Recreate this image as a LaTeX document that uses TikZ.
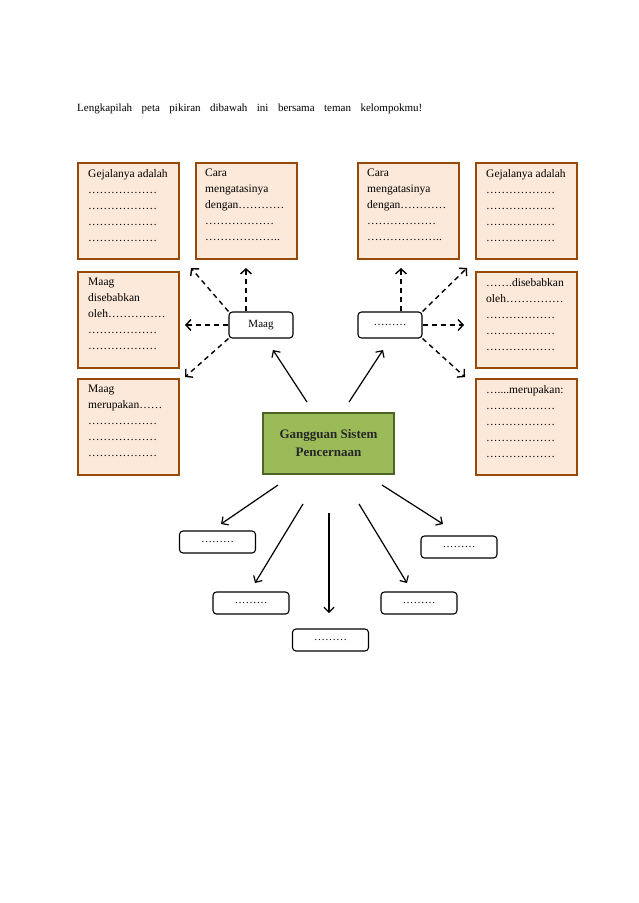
\documentclass[tikz,border=0pt]{standalone}
\usepackage{fontspec}
\setmainfont{Liberation Serif}
\usetikzlibrary{arrows.meta,calc}
\definecolor{boxfill}{HTML}{FDE9D9}
\definecolor{boxline}{HTML}{984807}
\definecolor{grfill}{HTML}{9BBB59}
\definecolor{grline}{HTML}{4F6228}
\newcommand\el{…}
\newcommand\dl{\el\el\el\el\el\el}
\begin{document}
\begin{tikzpicture}[x=1pt,y=-1pt,
 infobox/.style={draw=boxline, fill=boxfill, line width=2pt, minimum width=101pt, minimum height=96pt, anchor=north west, inner sep=0pt},
 infotext/.style={anchor=north west, inner sep=0pt, align=left, font=\fontsize{11.5}{16}\selectfont},
 smallbox/.style={draw, rounded corners=3.5pt, line width=1.1pt, font=\fontsize{11}{13}\selectfont, inner sep=0pt, minimum height=22pt, minimum width=76pt},
 arr/.style={line width=1.2pt, -{Straight Barb[length=5pt,width=10pt]}},
 darr/.style={line width=1.4pt, -{Straight Barb[length=5pt,width=11pt]}, dash pattern=on 5pt off 4pt},
]
\useasboundingbox (0,0) rectangle (638,903);

\node[anchor=base west, inner sep=0pt, font=\fontsize{11}{13}\selectfont] (title) at (77,111)
  {\makebox[345pt][s]{Lengkapilah peta pikiran dibawah ini bersama teman kelompokmu!}};

% left boxes
\node[infobox] (L1) at (77,162) {};
\node[infobox] (L2) at (195,162) {};
\node[infobox] (L3) at (77,271) {};
\node[infobox] (L4) at (77,378) {};
% right boxes
\node[infobox] (R1) at (357,162) {};
\node[infobox] (R2) at (475,162) {};
\node[infobox] (R3) at (475,271) {};
\node[infobox] (R4) at (475,378) {};

\node[infotext] (L1t) at ($(L1.north west)+(11,7)$) {Gejalanya adalah\\\dl\\\dl\\\dl\\\dl};
\node[infotext] (L2t) at ($(L2.north west)+(10,7)$) {Cara\\mengatasinya\\dengan\el\el\el\el\\\dl\\\dl..};
\node[infotext] (L3t) at ($(L3.north west)+(11,7)$) {Maag\\disebabkan\\oleh\el\el\el\el\el\\\dl\\\dl};
\node[infotext] (L4t) at ($(L4.north west)+(11,7)$) {Maag\\merupakan\el\el\\\dl\\\dl\\\dl};
\node[infotext] (R1t) at ($(R1.north west)+(10,7)$) {Cara\\mengatasinya\\dengan\el\el\el\el\\\dl\\\dl..};
\node[infotext] (R2t) at ($(R2.north west)+(11,7)$) {Gejalanya adalah\\\dl\\\dl\\\dl\\\dl};
\node[infotext] (R3t) at ($(R3.north west)+(11,7)$) {\el\el.disebabkan\\oleh\el\el\el\el\el\\\dl\\\dl\\\dl};
\node[infotext] (R4t) at ($(R4.north west)+(11,7)$) {\el....merupakan:\\\dl\\\dl\\\dl\\\dl};

% center
\node[draw=grline, fill=grfill, line width=2pt, minimum width=131pt, minimum height=61pt, inner sep=0pt, align=center,
  font=\fontsize{13}{18}\selectfont\bfseries, text=black!85] (G) at (328.5,443.5) {Gangguan Sistem\\Pencernaan};

\node[smallbox, minimum width=64pt, minimum height=26pt] (M) at (261,325) {Maag};
\node[smallbox, minimum width=64pt, minimum height=26pt] (D) at (390,325) {\el\el\el};

\node[smallbox] (B1) at (217.5,542) {\el\el\el};
\node[smallbox] (B2) at (251,603) {\el\el\el};
\node[smallbox] (B3) at (330.5,640) {\el\el\el};
\node[smallbox] (B4) at (419,603) {\el\el\el};
\node[smallbox] (B5) at (459,547) {\el\el\el};

% connector endpoints
\coordinate (gm) at (307,402); \coordinate (mg) at (273,350);
\coordinate (gd) at (349,402); \coordinate (dg) at (383,350);
\coordinate (g1) at (278,485); \coordinate (b1) at (221,524);
\coordinate (g2) at (303,504); \coordinate (b2) at (255,583);
\coordinate (g3) at (329,513); \coordinate (b3) at (329,613);
\coordinate (g4) at (359,504); \coordinate (b4) at (407,583);
\coordinate (g5) at (382,485); \coordinate (b5) at (443,524);

\draw[arr] (gm) -- (mg);
\draw[arr] (gd) -- (dg);
\draw[arr] (g1) -- (b1);
\draw[arr] (g2) -- (b2);
\draw[arr] (g3) -- (b3);
\draw[arr] (g4) -- (b4);
\draw[arr] (g5) -- (b5);

% dashed from Maag
\coordinate (mu) at (246,268);
\coordinate (mul) at (191,268);
\coordinate (ml) at (185,325);
\coordinate (mll) at (185,377);
\draw[darr] (246,311) -- (mu);
\draw[darr] (M.north west) -- (mul);
\draw[darr] (M.west) -- (ml);
\draw[darr] (M.south west) -- (mll);
% dashed from dots box
\coordinate (du) at (401,268);
\coordinate (dur) at (467,268);
\coordinate (dr) at (464,325);
\coordinate (dlr) at (465,377);
\draw[darr] (401,311) -- (du);
\draw[darr] (D.north east) -- (dur);
\draw[darr] (D.east) -- (dr);
\draw[darr] (D.south east) -- (dlr);
\end{tikzpicture}
\end{document}
